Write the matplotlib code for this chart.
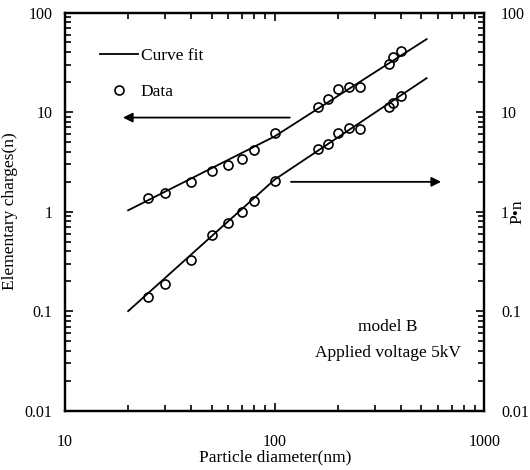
import matplotlib
matplotlib.use("Agg")
import matplotlib.pyplot as plt
from matplotlib.lines import Line2D
from matplotlib.ticker import LogLocator, FixedLocator, FixedFormatter, NullFormatter

plt.rcParams['font.family'] = ['Liberation Serif', 'DejaVu Serif']
plt.rcParams['font.size'] = 11.5

# particle diameters (nm) for measured points
d_n = [25, 30, 40, 50, 60, 70, 80, 100, 160, 180, 200, 225, 255, 350, 365, 400]
n_data = [1.37, 1.54, 1.99, 2.55, 2.93, 3.34, 4.12, 6.2, 11.3, 13.4, 17.2, 18.0, 18.0, 30.3, 35.4, 40.6]

d_pn = [25, 30, 40, 50, 60, 70, 80, 100, 160, 180, 200, 225, 255, 350, 365, 400]
pn_data = [0.138, 0.187, 0.323, 0.577, 0.77, 0.99, 1.28, 2.05, 4.21, 4.81, 6.2, 6.97, 6.8, 11.35, 12.4, 14.5]

# curve fits
d_fit = [20, 100, 530]
n_fit = [1.03, 5.7, 54]
pn_fit = [0.1, 2.1, 21.9]

yticks = [0.01, 0.1, 1, 10, 100]
ytick_labels = ['0.01', '0.1', '1', '10', '100']
xticks = [10, 100, 1000]
xtick_labels = ['10', '100', '1000']

fig = plt.figure(figsize=(5.3, 4.7), dpi=100)
ax = fig.add_axes([0.1226, 0.1262, 0.7915, 0.8472])

ax.plot(d_fit, n_fit, color='black', lw=1.3)
ax.plot(d_fit, pn_fit, color='black', lw=1.3)
ax.plot(d_n, n_data, 'o', mfc='none', mec='black', ms=6.5, mew=1.2)
ax.plot(d_pn, pn_data, 'o', mfc='none', mec='black', ms=6.5, mew=1.2)

ax.set_xscale('log')
ax.set_yscale('log')
ax.set_xlim(10, 1000)
ax.set_ylim(0.01, 100)

ax.xaxis.set_major_locator(FixedLocator(xticks))
ax.xaxis.set_major_formatter(FixedFormatter(xtick_labels))
ax.xaxis.set_minor_locator(LogLocator(base=10, subs=range(2, 10)))
ax.xaxis.set_minor_formatter(NullFormatter())
ax.yaxis.set_major_locator(FixedLocator(yticks))
ax.yaxis.set_major_formatter(FixedFormatter(ytick_labels))
ax.yaxis.set_minor_locator(LogLocator(base=10, subs=range(2, 10)))
ax.yaxis.set_minor_formatter(NullFormatter())

ax.tick_params(which='both', direction='in', top=True, right=False, width=1.2)
ax.tick_params(which='major', length=6)
ax.tick_params(which='minor', length=4)
ax.tick_params(axis='x', which='major', pad=17)
ax.tick_params(axis='y', which='major', pad=9)
for s in ax.spines.values():
    s.set_linewidth(1.6)

ax.set_xlabel('Particle diameter(nm)', labelpad=-1, fontsize=12.5)
ax.set_ylabel('Elementary charges(n)', fontsize=12.5)
ax.yaxis.set_label_coords(-0.111, 0.5)

twin = ax.twinx()
twin.set_yscale('log')
twin.set_ylim(0.01, 100)
twin.yaxis.set_major_locator(FixedLocator(yticks))
twin.yaxis.set_major_formatter(FixedFormatter(ytick_labels))
twin.yaxis.set_minor_locator(LogLocator(base=10, subs=range(2, 10)))
twin.yaxis.set_minor_formatter(NullFormatter())
twin.tick_params(which='both', direction='in', width=1.2)
twin.tick_params(which='major', length=6, pad=12)
twin.tick_params(which='minor', length=4)
twin.set_ylabel('P•n', rotation=90, va='center', fontsize=12.5)
twin.yaxis.set_label_coords(1.079, 0.5)
for s in twin.spines.values():
    s.set_linewidth(1.6)

# arrows pointing to the axis each curve belongs to
arrow_style = dict(arrowstyle='-|>', color='black', lw=1.3, mutation_scale=14,
                   shrinkA=0, shrinkB=0)
ax.annotate('', xy=(18.9, 8.8), xytext=(118, 8.8), arrowprops=arrow_style)
ax.annotate('', xy=(621, 1.99), xytext=(119.5, 1.99), arrowprops=arrow_style)

handles = [Line2D([], [], color='black', lw=1.3),
           Line2D([], [], ls='none', marker='o', mfc='none', mec='black', ms=6.5, mew=1.2)]
ax.legend(handles, ['Curve fit', 'Data'], loc='upper left', bbox_to_anchor=(0.083, 0.912),
          frameon=False, borderpad=0, handlelength=2.2, handletextpad=0.15,
          labelspacing=1.15, borderaxespad=0, fontsize=12.5)

ax.text(0.77, 0.21, 'model B', transform=ax.transAxes, ha='center', va='center', fontsize=12.5)
ax.text(0.77, 0.145, 'Applied voltage 5kV', transform=ax.transAxes, ha='center', va='center',
        fontsize=12.5)

fig.savefig('out.png', dpi=100)
